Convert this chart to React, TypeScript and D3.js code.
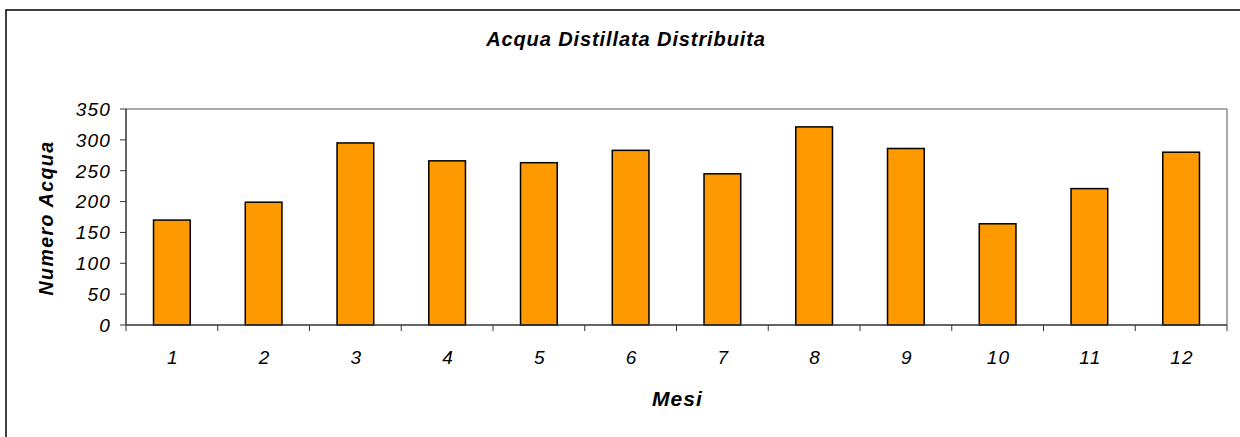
import React from "react";
import * as d3 from "d3";

// Monthly distilled water distributed
const months: string[] = ["1", "2", "3", "4", "5", "6", "7", "8", "9", "10", "11", "12"];
const acquaValues: number[] = [170, 199, 295, 266, 263, 283, 245, 321, 286, 164, 221, 280];
const yTicks: number[] = [0, 50, 100, 150, 200, 250, 300, 350];

const chartTitle = "Acqua Distillata Distribuita";
const xTitle = "Mesi";
const yTitle = "Numero Acqua";

const W = 1240;
const H = 437;
const plot = { left: 126, right: 1227, top: 109, bottom: 325 };
const FONT = "Arial, 'Liberation Sans', sans-serif";

export default function App() {
  const x = d3
    .scaleBand<string>()
    .domain(months)
    .range([plot.left, plot.right])
    .paddingInner(0.6)
    .paddingOuter(0.3);
  const y = d3.scaleLinear().domain([0, 350]).range([plot.bottom, plot.top]);

  const step = x.step();
  const boundaries = d3.range(months.length + 1).map((i) => plot.left + i * step);

  return (
    <svg
      width={W}
      height={H}
      style={{ position: "absolute", left: 0, top: 0, background: "#fff" }}
      fontFamily={FONT}
    >
      {/* chart frame */}
      <rect x={6} y={10} width={1260} height={460} fill="#fff" stroke="#000" strokeWidth={1.5} />

      {/* title */}
      <text
        x={626}
        y={46}
        textAnchor="middle"
        fontSize={20}
        fontWeight="bold"
        fontStyle="italic"
        letterSpacing={0.9}
      >
        {chartTitle}
      </text>

      {/* plot area border (top and right) */}
      <line x1={plot.left} x2={plot.right} y1={plot.top} y2={plot.top} stroke="#8c8c8c" strokeWidth={1.5} />
      <line x1={plot.right} x2={plot.right} y1={plot.top} y2={plot.bottom} stroke="#8c8c8c" strokeWidth={1.5} />

      {/* bars */}
      {acquaValues.map((v, i) => (
        <rect
          key={months[i]}
          x={x(months[i])!}
          y={y(v)}
          width={x.bandwidth()}
          height={y(0) - y(v)}
          fill="#FF9900"
          stroke="#000"
          strokeWidth={1.5}
        />
      ))}

      {/* y axis */}
      <line x1={plot.left} x2={plot.left} y1={plot.top} y2={plot.bottom} stroke="#333" strokeWidth={1.5} />
      {yTicks.map((t) => (
        <g key={t}>
          <line x1={plot.left - 6} x2={plot.left} y1={y(t)} y2={y(t)} stroke="#333" strokeWidth={1} />
          <text
            x={111}
            y={y(t)}
            dy="0.36em"
            textAnchor="end"
            fontSize={19}
            fontStyle="italic"
            letterSpacing={1.2}
          >
            {t}
          </text>
        </g>
      ))}

      {/* x axis */}
      <line x1={plot.left} x2={plot.right} y1={plot.bottom} y2={plot.bottom} stroke="#333" strokeWidth={1.5} />
      {boundaries.map((bx, i) => (
        <line key={i} x1={bx} x2={bx} y1={plot.bottom} y2={plot.bottom + 6} stroke="#333" strokeWidth={1} />
      ))}
      {months.map((m) => (
        <text
          key={m}
          x={x(m)! + x.bandwidth() / 2 + 1}
          y={364}
          textAnchor="middle"
          fontSize={19}
          fontStyle="italic"
          letterSpacing={1.2}
        >
          {m}
        </text>
      ))}

      {/* axis titles */}
      <text
        x={(plot.left + plot.right) / 2 + 1}
        y={406}
        textAnchor="middle"
        fontSize={21}
        fontWeight="bold"
        fontStyle="italic"
        letterSpacing={1.1}
      >
        {xTitle}
      </text>
      <text
        transform={`translate(53, ${(plot.top + plot.bottom) / 2 + 1}) rotate(-90)`}
        textAnchor="middle"
        fontSize={19.5}
        fontWeight="bold"
        fontStyle="italic"
        letterSpacing={1.4}
      >
        {yTitle}
      </text>
    </svg>
  );
}
